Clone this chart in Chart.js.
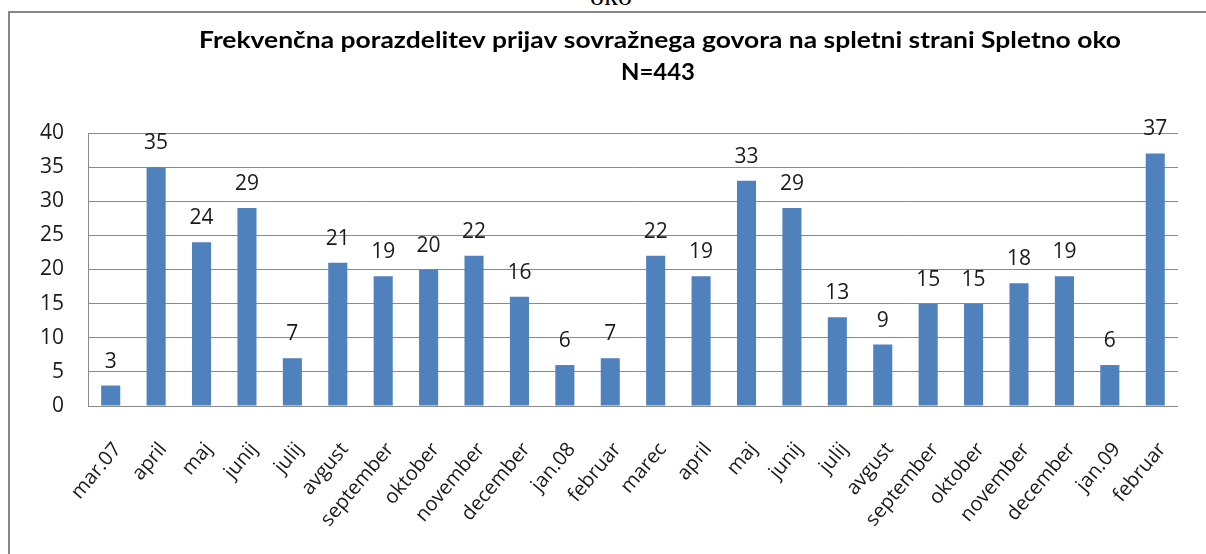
<!DOCTYPE html>
<html>
<head>
<meta charset="utf-8">
<script src="https://cdn.jsdelivr.net/npm/chart.js@4"></script>
<style>
  html, body { margin: 0; padding: 0; background: #fff; width: 1206px; height: 554px; overflow: hidden; }
  #frame { position: absolute; left: 8px; top: 11px; width: 1400px; height: 700px; border-left: 2px solid #878787; border-top: 2px solid #878787; }
  #oko { position: absolute; left: 8px; width: 1206px; top: -18px; text-align: center; font-family: "Liberation Serif", serif; font-size: 28px; color: #000; line-height: 28px; }
  canvas { position: absolute; left: 0; top: 0; }
</style>
</head>
<body>
<div id="oko">oko</div>
<div id="frame"></div>
<canvas id="c" width="1206" height="554"></canvas>
<script>
const titleLines = ["Frekvenčna porazdelitev prijav sovražnega govora na spletni strani Spletno oko", "N=443"];
const categories = ["mar.07", "april", "maj", "junij", "julij", "avgust", "september", "oktober", "november", "december", "jan.08", "februar", "marec", "april", "maj", "junij", "julij", "avgust", "september", "oktober", "november", "december", "jan.09", "februar"];
const reports = [3, 35, 24, 29, 7, 21, 19, 20, 22, 16, 6, 7, 22, 19, 33, 29, 13, 9, 15, 15, 18, 19, 6, 37];
const yTicks = [0, 5, 10, 15, 20, 25, 30, 35, 40];

const FONT = "'Open Sans', sans-serif";
const TEXT = "#1a1a1a";
const GRID = "#8a8a8a";

function drawStretched(ctx, text, cx, y, targetW) {
  const w = ctx.measureText(text).width;
  const s = targetW / w;
  ctx.save();
  ctx.translate(cx, y);
  ctx.scale(s, 1);
  ctx.fillText(text, 0, 0);
  ctx.restore();
}

const titlePlugin = {
  id: 'customTitle',
  afterDraw(chart) {
    const ctx = chart.ctx;
    ctx.save();
    ctx.fillStyle = "#000";
    ctx.textAlign = 'center';
    ctx.textBaseline = 'alphabetic';
    ctx.font = "bold 23px Lato, sans-serif";
    drawStretched(ctx, titleLines[0], 660, 48, 922);
    drawStretched(ctx, titleLines[1], 658, 80, 74);
    ctx.restore();
  }
};

const valueLabels = {
  id: 'valueLabels',
  afterDatasetsDraw(chart) {
    const ctx = chart.ctx;
    const meta = chart.getDatasetMeta(0);
    ctx.save();
    ctx.fillStyle = TEXT;
    ctx.font = "21px " + FONT;
    ctx.textAlign = 'center';
    ctx.textBaseline = 'alphabetic';
    meta.data.forEach((bar, i) => {
      ctx.fillText(String(chart.data.datasets[0].data[i]), bar.x, bar.y - 18);
    });
    ctx.restore();
  }
};

new Chart(document.getElementById('c'), {
  type: 'bar',
  data: {
    labels: categories,
    datasets: [{
      data: reports,
      backgroundColor: '#4F81BD',
      borderWidth: 0,
      barPercentage: 0.42,
      categoryPercentage: 1.0
    }]
  },
  options: {
    responsive: false,
    animation: false,
    layout: { padding: { top: 133, right: 18, left: 0, bottom: 0 } },
    plugins: { legend: { display: false }, title: { display: false }, tooltip: { enabled: false } },
    scales: {
      y: {
        min: 0, max: 40,
        afterBuildTicks(scale) { scale.ticks = yTicks.map(v => ({ value: v })); },
        afterFit(scale) { scale.width = 88; },
        ticks: { color: TEXT, font: { family: FONT, size: 21 }, padding: 24 },
        grid: { color: GRID, drawTicks: false, lineWidth: 1 },
        border: { color: GRID, width: 1 }
      },
      x: {
        afterFit(scale) { scale.height = 148; },
        ticks: { color: TEXT, font: { family: FONT, size: 20 }, minRotation: 50, maxRotation: 50, padding: 32, labelOffset: 7, autoSkip: false },
        grid: { display: false, drawTicks: false },
        border: { color: GRID, width: 1 }
      }
    }
  },
  plugins: [titlePlugin, valueLabels]
});
</script>
</body>
</html>
